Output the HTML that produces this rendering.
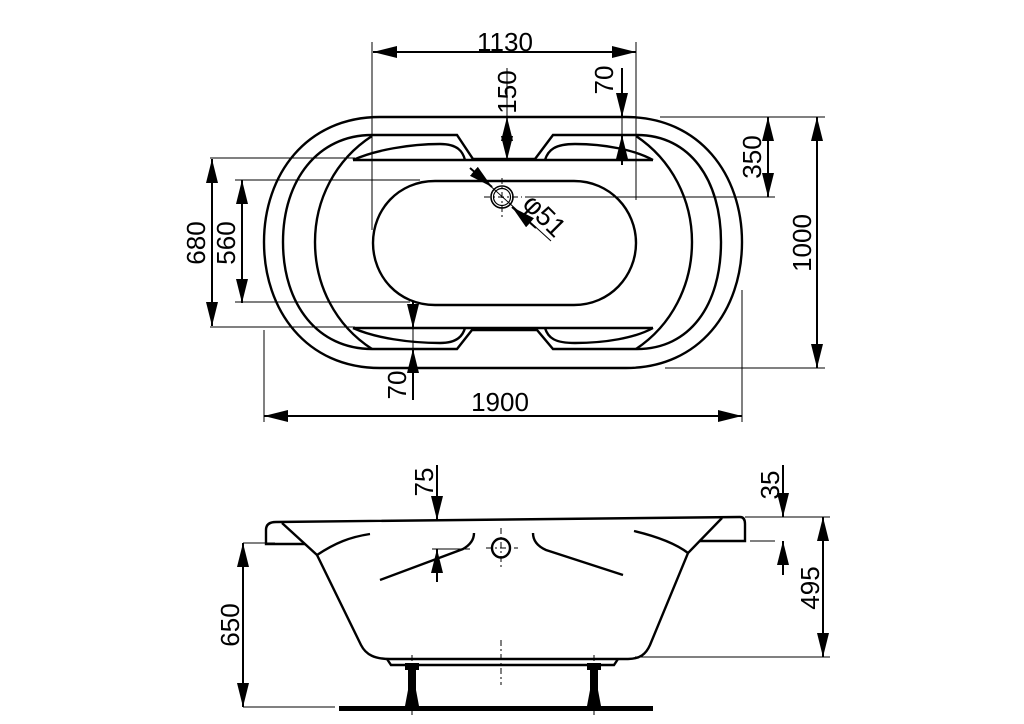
<!DOCTYPE html>
<html><head><meta charset="utf-8"><style>
html,body{margin:0;padding:0;background:#fff;}
svg{display:block;}
text{font-family:"Liberation Sans",sans-serif;font-size:26px;fill:#000;}
</style></head><body>
<svg width="1024" height="724" viewBox="0 0 1024 724" xmlns="http://www.w3.org/2000/svg">
<defs>
<marker id="a" viewBox="0 0 24 12" refX="24" refY="6" markerWidth="24" markerHeight="12" markerUnits="userSpaceOnUse" orient="auto-start-reverse"><path d="M0,0 L24,6 L0,12 Z" fill="#000"/></marker>
</defs>
<g fill="none" stroke="#000" stroke-width="2.4">
<path d="M380,117 H626 C700,117 742,175 742,242 C742,310 700,368 626,368 H380 C306,368 264,310 264,242 C264,175 306,117 380,117 Z"/>
<path d="M372,135 H457 L473,159 H535 L553,135 H637 C690,135 721,180 721,242 C721,305 690,349 637,349 H553 L537,330 H472 L457,349 H372 C318,349 283,305 283,242 C283,180 318,135 372,135 Z"/>
<path d="M372,136 C335,160 315,200 315,242 C315,285 335,325 372,349"/>
<path d="M636,136 C672,160 692,200 692,242 C692,285 672,325 636,349"/>
<path d="M353,160 H653"/>
<path d="M353,328 H653"/>
<path d="M353,160 C375,150 410,144 440,144 C458,144 463,152 465,160"/>
<path d="M545,160 C548,150 555,144 575,144 C605,144 635,150 653,160"/>
<path d="M353,328 C375,338 410,343 440,343 C458,343 463,335 465,328"/>
<path d="M545,328 C548,338 555,343 575,343 C605,343 635,338 653,328"/>
<path d="M435,181 H574 C610,181 636,210 636,243 C636,276 610,305 574,305 H435 C398,305 373,276 373,243 C373,210 398,181 435,181 Z"/>
<circle cx="502" cy="197" r="11" stroke-width="1.6"/>
<circle cx="502" cy="197" r="8.5" stroke-width="1.2"/>
</g>
<g fill="none" stroke="#000" stroke-width="1" >
<path d="M484,197 H522 M502,178 V217" stroke-dasharray="6,3,2,3"/>
<path d="M475,172 L551,241"/>
<path d="M372,42 V230 M636,42 V200 M507,68 V160 M622,68 V165"/>
<path d="M660,117 H825 M665,368 H825 M525,197 H775"/>
<path d="M210,158 H355 M235,180 H420 M235,302 H410 M210,327 H355"/>
<path d="M264,330 V422 M742,290 V422 M413,318 V400"/>
</g>
<g stroke="#000" stroke-width="2" fill="none">
<path d="M373,52 H636" marker-start="url(#a)" marker-end="url(#a)"/>
<path d="M507,117 V160" marker-start="url(#a)" marker-end="url(#a)" stroke-width="1.6"/>
<path d="M622,68 V117" marker-end="url(#a)"/>
<path d="M622,165 V135" marker-end="url(#a)"/>
<path d="M768,117 V197" marker-start="url(#a)" marker-end="url(#a)"/>
<path d="M817,117 V368" marker-start="url(#a)" marker-end="url(#a)"/>
<path d="M212,159 V326" marker-start="url(#a)" marker-end="url(#a)"/>
<path d="M242,180 V303" marker-start="url(#a)" marker-end="url(#a)"/>
<path d="M413,302 V328" marker-end="url(#a)"/>
<path d="M413,400 V349" marker-end="url(#a)"/>
<path d="M264,416 H742" marker-start="url(#a)" marker-end="url(#a)"/>
<path d="M470,168 L492,187" marker-end="url(#a)"/>
<path d="M536,228 L512,207" marker-end="url(#a)"/>
</g>
<text x="505" y="51" text-anchor="middle">1130</text>
<text transform="translate(516,92) rotate(-90)" text-anchor="middle">150</text>
<text transform="translate(613,80) rotate(-90)" text-anchor="middle">70</text>
<text transform="translate(761,157) rotate(-90)" text-anchor="middle">350</text>
<text transform="translate(811,243) rotate(-90)" text-anchor="middle">1000</text>
<text transform="translate(205,243) rotate(-90)" text-anchor="middle">680</text>
<text transform="translate(235,243) rotate(-90)" text-anchor="middle">560</text>
<text transform="translate(406,385) rotate(-90)" text-anchor="middle">70</text>
<text x="500" y="411" text-anchor="middle">1900</text>
<text transform="translate(538,222) rotate(45)" text-anchor="middle" style="font-size:27px">φ51</text>

<g fill="none" stroke="#000" stroke-width="2.4">
<path d="M276,522 L740,517 C744,517 745,520 745,524 V541 H699"/>
<path d="M276,522 C268,522 266,526 266,530 V544 H305"/>
<path d="M282,523 L317,555 L361,645 C366,655 375,659 390,659 H628 C640,659 646,654 650,645 L688,553 L722,518"/>
<path d="M317,555 C335,543 350,537 370,534"/>
<path d="M634,531 C655,536 675,543 688,553"/>
<path d="M380,580 L463,549 C470,545 474,540 474,533"/>
<path d="M533,533 C533,540 537,546 546,550 L623,575"/>
<path d="M387,659 L391,665 H614 L618,659"/>
<ellipse cx="501" cy="548" rx="9" ry="9.5"/>
</g>
<rect x="339" y="706" width="314" height="5" fill="#000"/>
<g fill="#000">
<path d="M405,663 H419 V670 H416 V690 L419,706 H405 L408,690 V670 H405 Z"/>
<path d="M587,663 H601 V670 H598 V690 L601,706 H587 L590,690 V670 H587 Z"/>
</g>
<g fill="none" stroke="#000" stroke-width="1">
<path d="M501,528 V568 M486,548 H518 M501,640 V685 M412,655 V715 M594,655 V715" stroke-dasharray="6,3,2,3"/>
<path d="M432,549 H470 M745,517 H830 M750,541 H775 M635,657 H830 M243,543 H275 M243,707 H335"/>
</g>
<g stroke="#000" stroke-width="2" fill="none">
<path d="M437,465 V520" marker-end="url(#a)"/>
<path d="M437,582 V549" marker-end="url(#a)"/>
<path d="M783,465 V517" marker-end="url(#a)"/>
<path d="M783,575 V541" marker-end="url(#a)"/>
<path d="M823,517 V657" marker-start="url(#a)" marker-end="url(#a)"/>
<path d="M243,543 V707" marker-start="url(#a)" marker-end="url(#a)"/>
</g>
<text transform="translate(433,482) rotate(-90)" text-anchor="middle">75</text>
<text transform="translate(779,485) rotate(-90)" text-anchor="middle">35</text>
<text transform="translate(819,588) rotate(-90)" text-anchor="middle">495</text>
<text transform="translate(239,625) rotate(-90)" text-anchor="middle">650</text>
</svg>
</body></html>
